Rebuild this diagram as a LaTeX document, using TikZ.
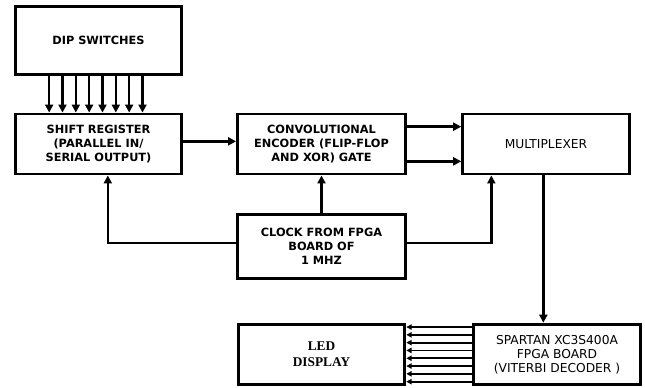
\documentclass[tikz,border=0pt]{standalone}
\usepackage{fontspec}
\setmainfont{DejaVu Sans}
\newfontfamily\ledfont{Liberation Serif}
\usepackage{tikz}
\usetikzlibrary{arrows.meta,positioning,calc}
\tikzset{block/.style={draw=black,line width=2.2pt,fill=white,align=center,font=\fontsize{8.5}{10.3}\selectfont\bfseries,minimum width=125pt,inner sep=2pt},arr/.style={-{Triangle[length=6pt,width=6pt]},draw=black,line width=1.9pt},busarr/.style={-{Triangle[length=4pt,width=4pt]},draw=black,line width=1.3pt}}

\begin{document}
\begin{tikzpicture}[x=0.75pt,y=-0.75pt,
thin/.style={font=\fontsize{9.2}{10.5}\selectfont\mdseries}]
\useasboundingbox (0,0) rectangle (645,387);
\node[block,minimum height=51pt] (dip) at (98.5,40.5) {DIP SWITCHES};
\node[block,minimum height=45pt] (shift) at (98.5,144) {SHIFT REGISTER\\(PARALLEL IN/\\SERIAL OUTPUT)};
\node[block,minimum height=45pt,minimum width=126pt] (enc) at (321.5,144) {CONVOLUTIONAL\\ENCODER (FLIP-FLOP\\AND XOR) GATE};
\node[block,thin,minimum height=45pt] (mux) at (546,144) {MULTIPLEXER};
\node[block,minimum height=48pt,minimum width=126pt] (clk) at (321.5,246.5) {CLOCK FROM FPGA\\BOARD OF\\1 MHZ};
\node[block,minimum height=45.5pt,font=\fontsize{10}{12}\selectfont\ledfont\bfseries] (led) at (321.5,354.5) {LED\\DISPLAY};
\node[block,thin,minimum height=45.5pt] (fpga) at (557,354.5) {SPARTAN XC3S400A\\FPGA BOARD\\(VITERBI DECODER )};
\foreach \i in {0,...,7}
  \draw[arr] ([xshift={-37pt+\i*10pt}]dip.south) -- ([xshift={-37pt+\i*10pt}]shift.north);
\draw[arr] ([yshift=2pt]shift.east) -- ([yshift=2pt]shift.east -| enc.west);
\draw[arr] ([yshift=13pt]enc.east) -- ([yshift=13pt]mux.west);
\draw[arr] ([yshift=-13pt]enc.east) -- ([yshift=-13pt]mux.west);
\draw[arr] (clk.north) -- (enc.south);
\draw[arr] ([yshift=2.6pt]clk.west) -| ([xshift=7pt]shift.south);
\draw[arr] ([yshift=2.6pt]clk.east) -| ([xshift=-41pt]mux.south);
\draw[arr] ([xshift=-2pt]mux.south) -- ([xshift=-2pt]mux.south |- fpga.north);
\foreach \i in {0,...,7}
  \draw[busarr] ([yshift={20.6pt-\i*5.85pt}]fpga.west) -- ([yshift={20.6pt-\i*5.85pt}]led.east);
\end{tikzpicture}
\end{document}
